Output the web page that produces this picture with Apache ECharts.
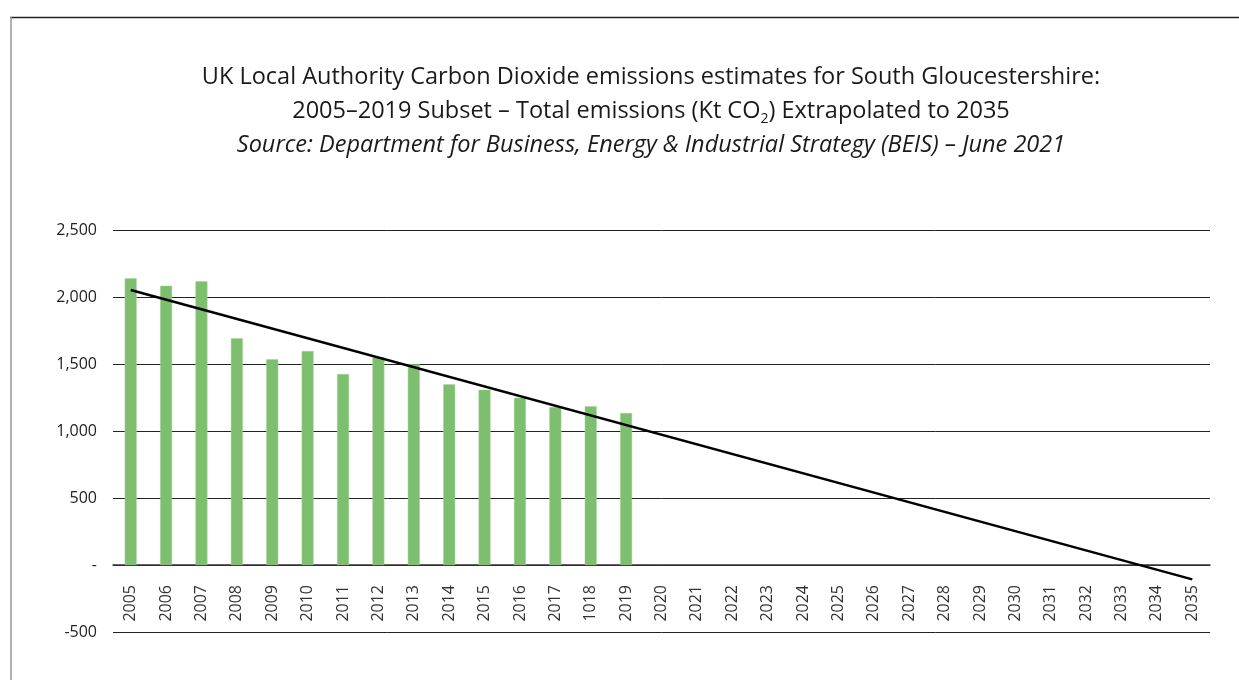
<!DOCTYPE html>
<html>
<head>
<meta charset="utf-8">
<script src="https://cdn.jsdelivr.net/npm/echarts@6/dist/echarts.min.js"></script>
<style>
  html, body { margin: 0; padding: 0; background: #fff; }
  #chart { width: 1239px; height: 680px; }
</style>
</head>
<body>
<div id="chart"></div>
<script>
// Categories (note: "1018" label as in the source)
const years = ['2005','2006','2007','2008','2009','2010','2011','2012','2013','2014','2015','2016','2017','1018','2019',
  '2020','2021','2022','2023','2024','2025','2026','2027','2028','2029','2030','2031','2032','2033','2034','2035'];
// Total emissions (Kt CO2), 2005–2019
const emissions = [2140, 2084, 2117, 1692, 1535, 1597, 1425, 1550, 1498, 1348, 1308, 1249, 1179, 1184, 1134];
// Linear trend line end points (start year, end year)
const trendStart = ['2005', 2052];
const trendEnd = ['2035', -107];
// Y axis ticks
const yMin = -500, yMax = 2500, yStep = 500;

const chart = echarts.init(document.getElementById('chart'), null, { renderer: 'canvas' });
const font = '"Open Sans", "Noto Sans", sans-serif';

chart.setOption({
  backgroundColor: '#ffffff',
  animation: false,
  textStyle: { fontFamily: font },
  title: {
    left: 651,
    textAlign: 'center',
    top: 60,
    padding: 0,
    text: 'UK Local Authority Carbon Dioxide emissions estimates for South Gloucestershire:\n' +
          '2005–2019 Subset – Total emissions (Kt CO{sub|2}) Extrapolated to 2035\n' +
          '{it|Source: Department for Business, Energy & Industrial Strategy (BEIS) – June 2021}',
    textStyle: {
      fontFamily: font,
      fontSize: 23.5,
      fontWeight: 'normal',
      color: '#1a1a1a',
      lineHeight: 34,
      rich: {
        sub: { fontSize: 14, fontFamily: font, color: '#1a1a1a', padding: [16, 0, 0, 0], lineHeight: 34 },
        it: { fontSize: 23.5, fontStyle: 'italic', fontFamily: font, color: '#1a1a1a', lineHeight: 34 }
      }
    }
  },
  graphic: [
    { type: 'line', shape: { x1: 10, y1: 17.5, x2: 1239, y2: 17.5 }, style: { stroke: '#222', lineWidth: 1.5 } },
    { type: 'line', shape: { x1: 11, y1: 17, x2: 11, y2: 680 }, style: { stroke: '#999', lineWidth: 1.5 } }
  ],
  grid: { left: 113, right: 29, top: 230, bottom: 48, containLabel: false, outerBoundsMode: 'none' },
  xAxis: {
    type: 'category',
    data: years,
    offset: -67,
    axisLine: { onZero: false, lineStyle: { color: '#333', width: 1.5 } },
    axisTick: { show: false },
    axisLabel: { rotate: 90, margin: 20, fontSize: 16, color: '#333', fontFamily: font, interval: 0 }
  },
  yAxis: {
    type: 'value',
    min: yMin, max: yMax, interval: yStep,
    axisLine: { show: false },
    axisTick: { show: false },
    splitLine: { lineStyle: { color: '#222', width: 1 } },
    axisLabel: {
      fontSize: 16, color: '#222', fontFamily: font, margin: 16,
      formatter: v => v === 0 ? '-' : v.toLocaleString('en-US')
    }
  },
  series: [
    {
      type: 'bar',
      data: emissions,
      barWidth: 12,
      itemStyle: { color: '#7DBF6F', borderColor: '#A6D49A', borderWidth: 0.5 }
    },
    {
      type: 'line',
      data: [trendStart, trendEnd],
      symbol: 'none',
      lineStyle: { color: '#000', width: 2.5 },
      z: 5
    }
  ]
});
</script>
</body>
</html>
